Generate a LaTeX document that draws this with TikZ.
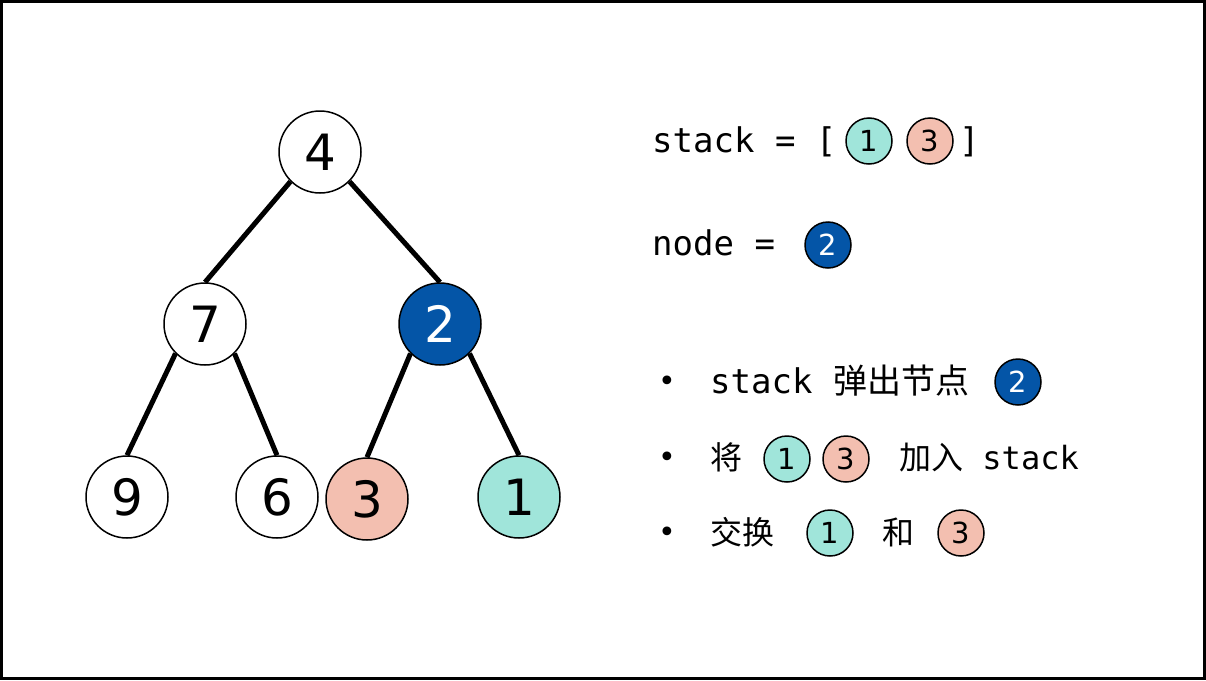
\documentclass[tikz,border=0pt]{standalone}
\usepackage{fontspec}
\setsansfont{DejaVu Sans}
\setmonofont{DejaVu Sans Mono}
\newfontfamily\cjk{Noto Sans CJK SC}
\usetikzlibrary{positioning,backgrounds}
\definecolor{heapteal}{HTML}{A0E5DA}
\definecolor{heappink}{HTML}{F3BFB0}
\definecolor{heapblue}{HTML}{0455A7}

\begin{document}
\begin{tikzpicture}[
  x=1pt,y=-1pt,
  treenode/.style={circle,draw,line width=1.5pt,fill=white,minimum size=82pt,inner sep=0pt,font=\sffamily\fontsize{50}{50}\selectfont},
  chip/.style={circle,draw,line width=1.5pt,minimum size=46pt,inner sep=0pt,font=\sffamily\fontsize{29}{29}\selectfont},
  code/.style={anchor=base west,inner sep=0pt,font=\ttfamily\fontsize{34}{34}\selectfont},
  han/.style={anchor=base west,inner sep=0pt,font=\cjk\fontsize{32}{32}\selectfont},
  bullet/.style={anchor=base,inner sep=0pt,font=\sffamily\fontsize{30}{30}\selectfont},
  link/.style={line width=5pt}
]
\useasboundingbox (0,0) rectangle (1206,680);
\draw[line width=3pt] (1.5,1.5) rectangle (1204.5,678.5);

% heap as a tree
\node[treenode] (n4) at (320,152) {4};
\node[treenode] (n7) at (205,324) {7};
\node[treenode,fill=heapblue,text=white] (n2) at (440,324) {2};
\node[treenode] (n9) at (127,497) {9};
\node[treenode] (n6) at (277,497) {6};
\node[treenode,fill=heappink] (n3) at (367,499) {3};
\node[treenode,fill=heapteal] (n1) at (519,497) {1};
\begin{scope}[on background layer]
\draw[link] (n4.south west) -- (n7.north);
\draw[link] (n4.south east) -- (n2.north);
\draw[link] (n7.south west) -- (n9.north);
\draw[link] (n7.south east) -- (n6.north);
\draw[link] (n2.south west) -- (n3.north);
\draw[link] (n2.south east) -- (n1.north);
\end{scope}

% state
\node[code] (stk) at (652,152) {stack = [};
\node[chip,fill=heapteal] (stk1) at (869,141) {1};
\node[chip,fill=heappink] (stk3) at (930,141) {3};
\node[code] (stkend) at (959,152) {]};
\node[code] (cur) at (652,255) {node =};
\node[chip,fill=heapblue,text=white] (cur2) at (828,245) {2};

% steps
\node[bullet] (b1) at (667,391) {\textbullet};
\node[code] (pop) at (710,393) {stack {\cjk 弹出节点}};
\node[chip,fill=heapblue,text=white] (pop2) at (1018,382) {2};
\node[bullet] (b2) at (667,467) {\textbullet};
\node[han] (push) at (710,469) {将};
\node[chip,fill=heapteal] (push1) at (787,459) {1};
\node[chip,fill=heappink] (push3) at (846,459) {3};
\node[han] (pushto) at (899,469) {加入{\ttfamily\ stack}};
\node[bullet] (b3) at (667,542) {\textbullet};
\node[han] (swap) at (710,544) {交换};
\node[chip,fill=heapteal] (swap1) at (830,533) {1};
\node[han] (and) at (882,544) {和};
\node[chip,fill=heappink] (swap3) at (961,533) {3};
\end{tikzpicture}
\end{document}
